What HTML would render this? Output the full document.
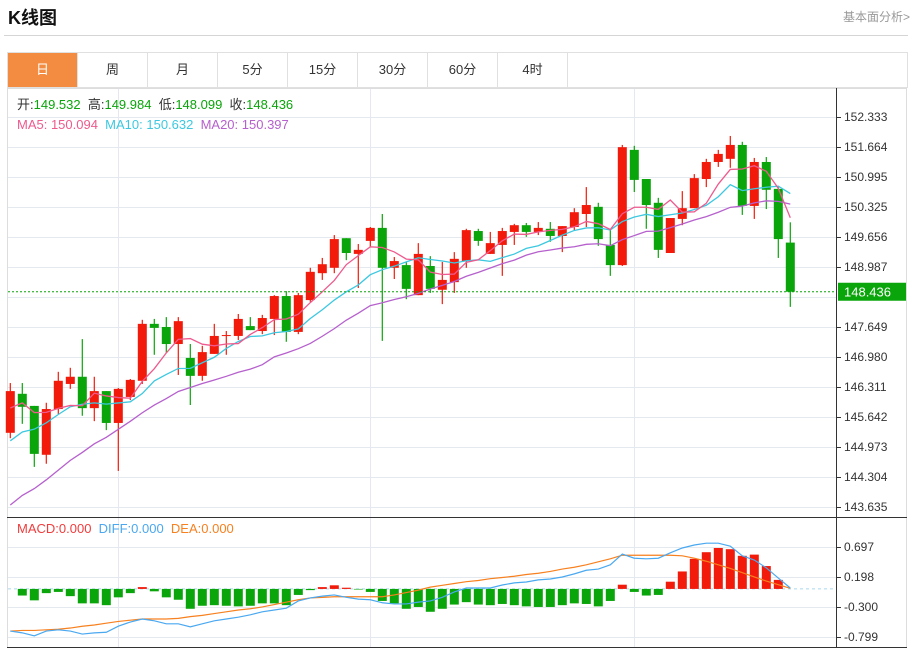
<!DOCTYPE html>
<html><head><meta charset="utf-8">
<style>
body{margin:0;background:#fff;width:912px;height:649px;overflow:hidden;font-family:"Liberation Sans","Noto Sans CJK SC",sans-serif;}
#title{position:absolute;left:8px;top:4px;font-size:18px;font-weight:bold;color:#111;}
#more{position:absolute;right:2px;top:8px;font-size:12px;color:#999;}
#hr{position:absolute;left:4px;top:35px;width:904px;height:1px;background:#d5d5d5;}
#tabs{position:absolute;left:7px;top:52px;width:901px;height:36px;border:1px solid #e0e0e0;box-sizing:border-box;display:flex;}
.tab{width:70px;height:34px;line-height:34px;text-align:center;font-size:13px;color:#333;border-right:1px solid #e0e0e0;box-sizing:border-box;}
.tab.on{background:#f38c40;color:#fff;}
svg{position:absolute;left:0;top:0;}
</style></head><body>
<div id="title">K线图</div>
<div id="more">基本面分析&gt;</div>
<div id="hr"></div>
<div id="tabs">
<div class="tab on">日</div>
<div class="tab">周</div>
<div class="tab">月</div>
<div class="tab">5分</div>
<div class="tab">15分</div>
<div class="tab">30分</div>
<div class="tab">60分</div>
<div class="tab">4时</div>
</div>
<svg id="chart" width="912" height="649"></svg>
<script>
const opens=[145.29,146.16,145.89,144.80,145.82,146.38,146.54,145.84,146.22,145.51,146.09,146.45,147.72,147.65,147.27,146.96,146.56,147.05,147.45,147.45,147.67,147.56,147.83,148.34,147.54,148.25,148.85,148.97,149.63,149.28,149.57,149.86,148.97,149.03,148.36,149.01,148.48,148.65,149.12,149.79,149.28,149.48,149.77,149.92,149.77,149.84,149.68,149.88,150.17,150.33,149.48,149.03,151.60,150.95,150.42,149.30,150.06,150.30,150.95,151.33,151.40,151.71,150.35,151.33,150.73,149.532];
const highs=[146.40,146.40,145.89,145.96,146.65,146.74,147.38,146.54,146.22,146.29,146.49,147.81,147.83,147.87,147.87,147.27,147.23,147.72,147.56,147.94,147.87,147.92,148.36,148.45,148.41,148.97,149.19,149.70,149.63,149.50,149.88,150.17,149.21,149.10,149.52,149.23,149.10,149.32,149.84,149.84,149.77,149.86,149.95,149.97,149.99,149.99,149.90,150.30,150.77,150.42,149.84,151.71,151.69,150.95,150.53,150.08,150.68,151.06,151.40,151.60,151.91,151.78,151.42,151.44,150.77,149.984];
const lows=[145.17,145.49,144.53,144.60,145.71,146.27,145.67,145.55,145.35,144.44,146.02,146.38,147.03,147.07,146.58,145.91,146.45,147.05,147.03,147.36,147.58,147.49,147.47,147.32,147.49,148.21,148.70,148.85,149.14,148.52,149.43,147.34,148.72,148.27,148.36,148.41,148.16,148.41,148.97,149.46,149.28,148.79,149.48,149.66,149.70,149.55,149.32,149.81,149.88,149.46,148.79,149.01,150.66,149.84,149.19,149.30,149.92,150.30,150.77,151.22,151.20,150.15,150.06,150.28,149.19,148.099];
const closes=[146.22,145.87,144.82,145.82,146.45,146.54,145.84,146.22,145.51,146.27,146.47,147.72,147.63,147.27,147.78,146.56,147.09,147.45,147.47,147.83,147.58,147.85,148.34,147.54,148.36,148.88,149.05,149.61,149.30,149.37,149.86,148.97,149.12,148.50,149.28,148.50,148.70,149.17,149.81,149.57,149.52,149.79,149.92,149.77,149.86,149.68,149.90,150.21,150.37,149.61,149.03,151.66,150.93,150.37,149.37,150.08,150.30,150.97,151.33,151.51,151.71,150.35,151.33,150.71,149.61,148.436];
const priorCloses=[141.6,141.8,141.9,142.1,142.2,142.3,142.4,142.6,142.7,142.9,143.9,144.2,144.4,144.6,144.8,145.3,145.9,145.8,146.0];
const macdHist=[0,-0.11,-0.19,-0.07,-0.05,-0.12,-0.24,-0.24,-0.27,-0.14,-0.07,0.03,-0.04,-0.14,-0.18,-0.33,-0.28,-0.27,-0.28,-0.29,-0.28,-0.24,-0.24,-0.27,-0.10,-0.02,0.03,0.06,0.02,-0.01,-0.05,-0.20,-0.24,-0.33,-0.30,-0.38,-0.33,-0.26,-0.22,-0.26,-0.27,-0.25,-0.27,-0.29,-0.30,-0.30,-0.27,-0.24,-0.25,-0.29,-0.20,0.07,-0.05,-0.11,-0.10,0.12,0.29,0.50,0.61,0.68,0.66,0.55,0.57,0.38,0.15,0];
const diffVals=[-0.70,-0.73,-0.78,-0.70,-0.68,-0.70,-0.75,-0.73,-0.72,-0.62,-0.55,-0.50,-0.53,-0.58,-0.58,-0.63,-0.58,-0.53,-0.50,-0.47,-0.43,-0.38,-0.35,-0.32,-0.20,-0.15,-0.12,-0.10,-0.14,-0.17,-0.18,-0.23,-0.25,-0.25,-0.22,-0.20,-0.14,-0.05,0.015,0.015,0.015,0.065,0.10,0.115,0.15,0.165,0.198,0.25,0.31,0.33,0.40,0.58,0.51,0.50,0.51,0.60,0.68,0.73,0.76,0.76,0.71,0.55,0.48,0.35,0.18,0.015];
const deaVals=[-0.70,-0.69,-0.69,-0.68,-0.67,-0.65,-0.62,-0.60,-0.57,-0.54,-0.52,-0.50,-0.50,-0.50,-0.49,-0.46,-0.44,-0.41,-0.38,-0.35,-0.33,-0.30,-0.26,-0.22,-0.18,-0.15,-0.14,-0.13,-0.13,-0.13,-0.13,-0.13,-0.10,-0.06,-0.02,0.03,0.06,0.09,0.12,0.14,0.17,0.19,0.21,0.24,0.26,0.29,0.33,0.36,0.40,0.45,0.50,0.56,0.56,0.56,0.56,0.56,0.55,0.51,0.46,0.40,0.34,0.27,0.20,0.13,0.07,0.01];
const priceTicks=[152.333,151.664,150.995,150.325,149.656,148.987,147.649,146.980,146.311,145.642,144.973,144.304,143.635];
const macdTicks=[0.697,0.198,-0.300,-0.799];

const NS='http://www.w3.org/2000/svg';
const svg=document.getElementById('chart');
function mk(tag,attrs,parent){const e=document.createElementNS(NS,tag);for(const k in attrs)e.setAttribute(k,attrs[k]);(parent||svg).appendChild(e);return e;}
const L=8,R=836;
const xS=i=>10.3+12*i;
const yP=p=>117+(152.333-p)*44.84;
const yM=v=>577-(v-0.198)*60.18;

// frame
let g=mk('g',{});


mk('rect',{x:7.5,y:88.5,width:899,height:559,fill:'none',stroke:'#ddd'},g);
// grid main
let grid=mk('g',{stroke:'#e3e9ef','stroke-width':1});


for(let k=0;k<14;k++){const y=117.5+30*k;mk('line',{x1:L,x2:R,y1:y,y2:y},grid);}
for(const y of [547.5,577.5,607.5,637.5])mk('line',{x1:L,x2:R,y1:y,y2:y},grid);
for(const x of [118.5,370.5,634.5])mk('line',{x1:x,x2:x,y1:89,y2:647},grid);
mk('line',{x1:836.5,x2:836.5,y1:88,y2:648,stroke:'#333'});
mk('line',{x1:7,x2:907,y1:517.5,y2:517.5,stroke:'#333'});
mk('line',{x1:7,x2:907,y1:647.5,y2:647.5,stroke:'#333'});

// price axis
let pa=mk('g',{'font-size':12,fill:'#333'});


priceTicks.forEach(p=>{const y=yP(p);mk('line',{x1:837,x2:841,y1:Math.round(y)+0.5,y2:Math.round(y)+0.5,stroke:'#333'},pa);const t=mk('text',{x:844,y:y+4},pa);t.textContent=p.toFixed(3);});
let ma=mk('g',{'font-size':12,fill:'#333'});


macdTicks.forEach(v=>{const y=yM(v);mk('line',{x1:837,x2:841,y1:Math.round(y)+0.5,y2:Math.round(y)+0.5,stroke:'#333'},ma);const t=mk('text',{x:844,y:y+4},ma);t.textContent=v.toFixed(3);});

// candles
const UP='#f21a0a',DN='#0aa50a';
let cg=mk('g',{});


closes.forEach((c,i)=>{
  const o=opens[i],col=c>=o?UP:DN,x=xS(i);
  const gg=mk('g',{},cg);
  
  
  mk('line',{x1:x,x2:x,y1:yP(highs[i]),y2:yP(lows[i]),stroke:col,'stroke-width':1.2},gg);
  const t=yP(Math.max(o,c)),b=yP(Math.min(o,c));
  mk('rect',{x:x-4.5,y:t,width:9,height:Math.max(1,b-t),fill:col},gg);
});

// MAs
const all=priorCloses.concat(closes);
function maLine(n,color,name){
  const pts=closes.map((_,i)=>{const j=i+priorCloses.length;let s=0,cnt=0;for(let k=Math.max(0,j-n+1);k<=j;k++){s+=all[k];cnt++;}return xS(i)+','+yP(s/cnt);});
  const p=mk('polyline',{points:pts.join(' '),fill:'none',stroke:color,'stroke-width':1.3});
  
  
}
maLine(20,'#b660cd','ma20-line');
maLine(10,'#3cc8e0','ma10-line');
maLine(5,'#ee5a8e','ma5-line');

// current price line
const lastY=yP(closes[closes.length-1]);
const cp=mk('line',{x1:L,x2:R,y1:lastY,y2:lastY,stroke:'#0aa50a','stroke-dasharray':'2,2'});


const cb=mk('rect',{x:838,y:lastY-9,width:68,height:18,fill:'#0aa50a'});


const ct=mk('text',{x:844,y:lastY+5,fill:'#fff','font-size':13});
ct.textContent=closes[closes.length-1].toFixed(3);

// MACD
const z=yM(0);
const zl=mk('line',{x1:L,x2:R,y1:z,y2:z,stroke:'#a8d8ee','stroke-dasharray':'3,3'});


let hg=mk('g',{});


macdHist.forEach((v,i)=>{const y=yM(v);const r=mk('rect',{x:xS(i)-4.5,y:Math.min(y,z),width:9,height:Math.abs(y-z),fill:v>=0?UP:DN},hg);

});
const dea=mk('polyline',{points:deaVals.map((v,i)=>xS(i)+','+yM(v)).join(' '),fill:'none',stroke:'#f7801f','stroke-width':1.2});


const dif=mk('polyline',{points:diffVals.map((v,i)=>xS(i)+','+yM(v)).join(' '),fill:'none',stroke:'#4aa8f0','stroke-width':1.2});



// legends
function txt(x,y,parts,name){const t=mk('text',{x:x,y:y,'font-size':13});parts.forEach(p=>{const s=mk('tspan',{fill:p[1]},t);s.textContent=p[0];});}
const G='#0aa50a';
txt(17,109,[['开:','#333'],['149.532  ',G],['高:','#333'],['149.984  ',G],['低:','#333'],['148.099  ',G],['收:','#333'],['148.436',G]],'ohlc-legend');
txt(17,129,[['MA5: 150.094  ','#ee5a8e'],['MA10: 150.632  ','#3cc8e0'],['MA20: 150.397','#b660cd']],'ma-legend');
txt(17,533,[['MACD:0.000  ','#f03c3c'],['DIFF:0.000  ','#4aa8f0'],['DEA:0.000','#f7801f']],'macd-legend');
document.querySelectorAll('tspan').forEach(s=>s.setAttribute('xml:space','preserve'));
document.querySelectorAll('text').forEach(s=>s.setAttribute('style','white-space:pre'));
</script>
</body></html>
